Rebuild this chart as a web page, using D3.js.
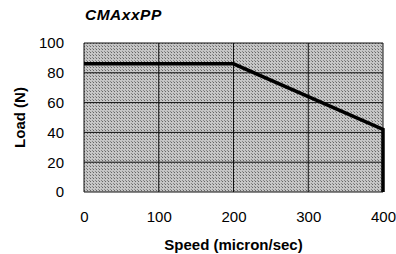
<!DOCTYPE html>
<meta charset="utf-8">
<style>
    body { margin: 0; background: #fff; }
    text { font-family: "Liberation Sans", Arial, sans-serif; fill: #000; }
    .tick text { font-size: 15px; }
    .axis-title { font-size: 15px; font-weight: bold; }
</style>
<svg width="396" height="254"></svg>
<script src="https://d3js.org/d3.v7.min.js"></script>
<script>
    var speed = [0, 200, 400, 400];
    var load = [86, 86, 42, 0];
    var xTicks = [0, 100, 200, 300, 400];
    var yTicks = [0, 20, 40, 60, 80, 100];

    var svg = d3.select("svg"),
        margin = {top: 43, right: 13, bottom: 62, left: 84},
        width = 396 - margin.left - margin.right,
        height = 254 - margin.top - margin.bottom,
        g = svg.append("g").attr("transform",
            "translate(" + margin.left + "," + margin.top + ")");

    var x = d3.scaleLinear().domain([0, 400]).range([0, width]);
    var y = d3.scaleLinear().domain([0, 100]).range([height, 0]);

    // halftone-ish grey background
    var pat = svg.append("defs").append("pattern")
        .attr("id", "dots")
        .attr("width", 3).attr("height", 3)
        .attr("patternUnits", "userSpaceOnUse");
    pat.append("rect").attr("width", 3).attr("height", 3).attr("fill", "#c6c6c6");
    pat.append("rect").attr("width", 1).attr("height", 1).attr("fill", "#666");
    pat.append("rect").attr("x", 2).attr("y", 2).attr("width", 1).attr("height", 1).attr("fill", "#888");

    g.append("rect")
        .attr("width", width)
        .attr("height", height)
        .attr("fill", "url(#dots)");

    // grid lines
    g.selectAll(".hgrid")
        .data(yTicks)
        .enter().append("line")
        .attr("x1", 0).attr("x2", width)
        .attr("y1", function (d) { return y(d); })
        .attr("y2", function (d) { return y(d); })
        .attr("stroke", "#111").attr("stroke-width", 1);

    g.selectAll(".vgrid")
        .data(xTicks)
        .enter().append("line")
        .attr("y1", 0).attr("y2", height)
        .attr("x1", function (d) { return x(d); })
        .attr("x2", function (d) { return x(d); })
        .attr("stroke", "#111").attr("stroke-width", 1);

    // axes (labels only)
    var xAxis = g.append("g")
        .attr("transform", "translate(0," + height + ")")
        .call(d3.axisBottom(x).tickValues(xTicks).tickSize(0).tickPadding(19));
    var yAxis = g.append("g")
        .call(d3.axisLeft(y).tickValues(yTicks).tickSize(0).tickPadding(20));
    xAxis.select(".domain").remove();
    yAxis.select(".domain").remove();
    svg.selectAll(".tick text").attr("fill", "#000").style("font-size", "15px");

    // load curve
    var line = d3.line()
        .x(function (d, i) { return x(speed[i]); })
        .y(function (d) { return y(d); });

    g.append("path")
        .datum(load)
        .attr("d", line)
        .attr("fill", "none")
        .attr("stroke", "#000")
        .attr("stroke-width", 3.5)
        .attr("stroke-linejoin", "miter");

    // titles
    svg.append("text")
        .attr("x", 85).attr("y", 20)
        .style("font-size", "15.5px")
        .style("font-weight", "bold")
        .style("font-style", "italic")
        .style("letter-spacing", "0.5px")
        .text("CMAxxPP");

    svg.append("text")
        .attr("class", "axis-title")
        .attr("x", margin.left + width / 2)
        .attr("y", 250)
        .attr("text-anchor", "middle")
        .text("Speed (micron/sec)");

    svg.append("text")
        .attr("class", "axis-title")
        .attr("transform", "translate(25," + (margin.top + height / 2) + ") rotate(-90)")
        .attr("text-anchor", "middle")
        .text("Load (N)");
</script>
